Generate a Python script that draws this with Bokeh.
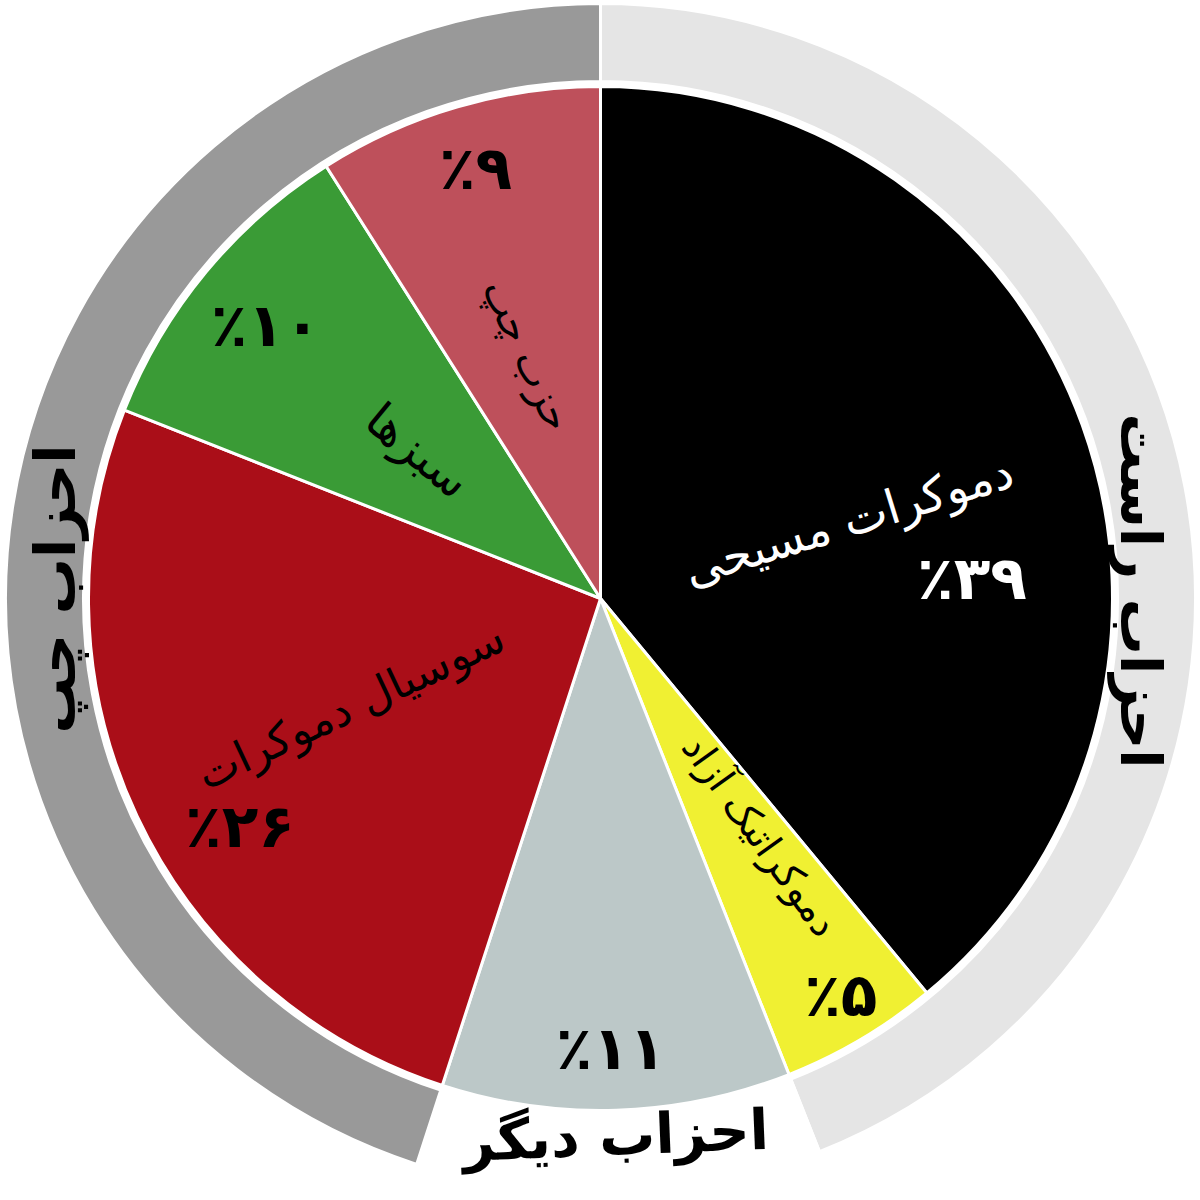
import math
from bokeh.plotting import figure
from bokeh.models import Range1d, ColumnDataSource
from bokeh.core.properties import value
from bokeh.embed import file_html
from bokeh.resources import INLINE

# ---------------- data ----------------
party_names = ["دموکرات مسیحی", "دموکراتیک آزاد", "", "سوسیال دموکرات", "سبزها", "حزب چپ"]
party_values = [39, 5, 11, 26, 10, 9]
party_groups = ["راست", "راست", "دیگر", "چپ", "چپ", "چپ"]
group_keys = ["راست", "دیگر", "چپ"]
group_titles = ["احزاب راست", "احزاب دیگر", "احزاب چپ"]

# ---------------- style ----------------
party_colors = ["#000000", "#f0f032", "#bcc8c8", "#aa0e18", "#3a9b36", "#be505b"]
name_colors = ["white", "black", "black", "black", "black", "black"]
name_sizes = ["47px", "39px", "38px", "44px", "47px", "40px"]
pct_colors = ["white", "black", "black", "black", "black", "black"]
group_colors = ["#e5e5e5", "#ffffff", "#999999"]

# label placement (radius, clockwise degrees from 12 o'clock, text rotation rad)
name_r = [260, 286, 0, 272, 235, 254]
name_theta = [72.5, 146, 0, 246.8, 309.1, 343.3]
name_rot = [0.30, -0.95, 0, 0.44, -0.69, -1.145]
pct_r = [372, 464, 450, 426, 432, 448]
pct_theta = [86.9, 148.8, 178.7, 237.8, 309.2, 343.8]
group_r = [540, 537, 545]
group_theta = [89.2, 178.4, 271.0]
group_rot = [-math.pi / 2, 0.04, math.pi / 2]

R_PIE = 512
R_IN = 517
R_OUT = 595

fa = str.maketrans("0123456789", "۰۱۲۳۴۵۶۷۸۹")


def polar(r, theta_deg):
    t = math.radians(theta_deg)
    return r * math.sin(t), r * math.cos(t)


total = sum(party_values)
starts, ends = [], []
cum = 0
for v in party_values:
    starts.append(math.pi / 2 - 2 * math.pi * cum / total)
    cum += v
    ends.append(math.pi / 2 - 2 * math.pi * cum / total)

pie_src = ColumnDataSource(dict(start=starts, end=ends, color=party_colors))

# group ring
g_starts, g_ends = [], []
cum = 0
for g in group_keys:
    s = sum(v for v, pg in zip(party_values, party_groups) if pg == g)
    g_starts.append(math.pi / 2 - 2 * math.pi * cum / total)
    cum += s
    g_ends.append(math.pi / 2 - 2 * math.pi * cum / total)
ring_src = ColumnDataSource(dict(start=g_starts, end=g_ends, color=group_colors))

p = figure(width=1200, height=1200, x_range=Range1d(-600, 600), y_range=Range1d(-602, 598),
           output_backend="svg", toolbar_location=None, min_border=0)
p.axis.visible = False
p.grid.visible = False
p.outline_line_color = None
p.background_fill_color = "white"
p.border_fill_color = "white"

p.annular_wedge(x=0, y=0, inner_radius=R_IN, outer_radius=R_OUT, start_angle="start", end_angle="end",
                direction="clock", fill_color="color", line_color="white", line_width=3, source=ring_src)
p.wedge(x=0, y=0, radius=R_PIE, start_angle="start", end_angle="end", direction="clock",
        fill_color="color", line_color="white", line_width=3, source=pie_src)

# slice names
nx, ny, nt, na, nc, ns = [], [], [], [], [], []
for i, name in enumerate(party_names):
    if not name:
        continue
    x, y = polar(name_r[i], name_theta[i])
    nx.append(x); ny.append(y); nt.append(name); na.append(name_rot[i])
    nc.append(name_colors[i]); ns.append(name_sizes[i])
name_src = ColumnDataSource(dict(x=nx, y=ny, text=nt, angle=na, color=nc, size=ns))
p.text(x="x", y="y", text="text", angle="angle", text_color="color", text_font=value("DejaVu Sans"),
       text_font_size="size", text_align="center", text_baseline="middle", source=name_src)

# percentages
px, py, pt, pc = [], [], [], []
for i, v in enumerate(party_values):
    x, y = polar(pct_r[i], pct_theta[i])
    px.append(x); py.append(y); pt.append("٪" + str(v).translate(fa)); pc.append(pct_colors[i])
p.text(x=px, y=py, text=pt, text_color=pc, text_font=value("DejaVu Sans"), text_font_style="bold",
       text_font_size=value("60px"), text_align="center", text_baseline="middle")

# group titles
gx, gy = [], []
for i in range(len(group_keys)):
    x, y = polar(group_r[i], group_theta[i])
    gx.append(x); gy.append(y)
p.text(x=gx, y=gy, text=group_titles, angle=group_rot, text_color="black",
       text_font=value("DejaVu Sans"), text_font_style="bold", text_font_size=value("56px"),
       text_align="center", text_baseline="middle")

open("out.html", "w").write(file_html(p, INLINE))
